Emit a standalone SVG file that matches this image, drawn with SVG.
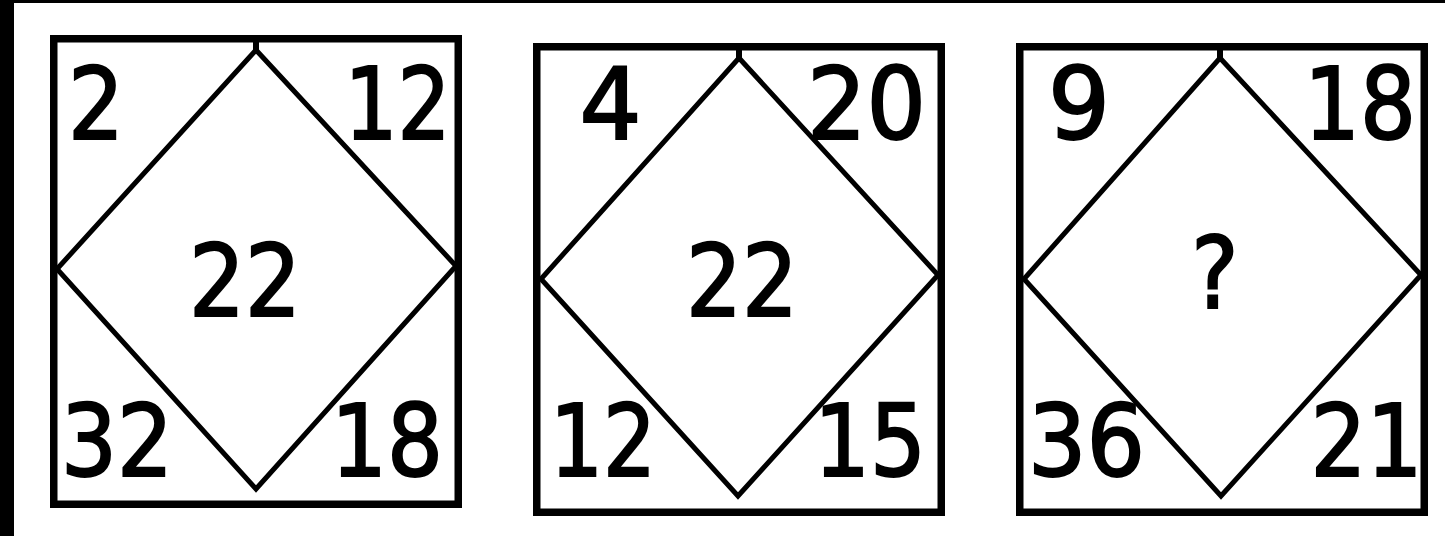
<svg xmlns="http://www.w3.org/2000/svg" width="1445" height="536" viewBox="0 0 1445 536">
<style>
.frame{fill:none;stroke:#000;stroke-width:7.5}
.dia{fill:none;stroke:#000;stroke-width:5;stroke-linejoin:miter}
.num{font-family:"DejaVu Sans Condensed","DejaVu Sans",sans-serif;font-size:99px;fill:#000;stroke:#000;stroke-width:2;text-anchor:middle}
</style>
<rect x="0" y="0" width="1445" height="536" fill="#fff"/>
<rect x="0" y="0" width="1445" height="3" fill="#000"/>
<rect x="0" y="0" width="14" height="536" fill="#000"/>
<g id="box1">
<rect class="frame" x="53.75" y="38.75" width="404.5" height="465.5"/>
<polygon class="dia" points="256,50 456,266 256,489 57,269"/>
<line x1="256" y1="42" x2="256" y2="51" stroke="#000" stroke-width="6"/>
<text class="num" x="96" y="139" textLength="56" lengthAdjust="spacingAndGlyphs">2</text>
<text class="num" x="397.5" y="139" textLength="106" lengthAdjust="spacingAndGlyphs">12</text>
<text class="num" x="245" y="316" textLength="112" lengthAdjust="spacingAndGlyphs">22</text>
<text class="num" x="117" y="476" textLength="112" lengthAdjust="spacingAndGlyphs">32</text>
<text class="num" x="387" y="476" textLength="112" lengthAdjust="spacingAndGlyphs">18</text>
</g>
<g id="box2">
<rect class="frame" x="536.75" y="46.75" width="404.5" height="465.5"/>
<polygon class="dia" points="739,58 938,275 738,496 541,279"/>
<line x1="739" y1="50" x2="739" y2="59" stroke="#000" stroke-width="6"/>
<text class="num" x="610.5" y="139" textLength="62" lengthAdjust="spacingAndGlyphs">4</text>
<text class="num" x="866.5" y="139" textLength="119" lengthAdjust="spacingAndGlyphs">20</text>
<text class="num" x="742" y="316" textLength="112" lengthAdjust="spacingAndGlyphs">22</text>
<text class="num" x="603" y="476" textLength="106" lengthAdjust="spacingAndGlyphs">12</text>
<text class="num" x="870" y="476" textLength="112" lengthAdjust="spacingAndGlyphs">15</text>
</g>
<g id="box3">
<rect class="frame" x="1019.75" y="46.75" width="404.5" height="465.5"/>
<polygon class="dia" points="1220,58 1421,275 1221,496 1024,279"/>
<line x1="1220" y1="50" x2="1220" y2="59" stroke="#000" stroke-width="6"/>
<text class="num" x="1079" y="139" textLength="62" lengthAdjust="spacingAndGlyphs">9</text>
<text class="num" x="1360" y="139" textLength="112" lengthAdjust="spacingAndGlyphs">18</text>
<text class="num" x="1215" y="308">?</text>
<text class="num" x="1086.5" y="476" textLength="117" lengthAdjust="spacingAndGlyphs">36</text>
<text class="num" x="1366.5" y="476" textLength="112" lengthAdjust="spacingAndGlyphs">21</text>
</g>
</svg>
